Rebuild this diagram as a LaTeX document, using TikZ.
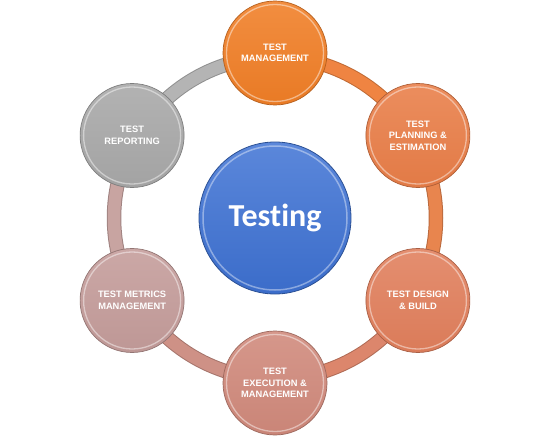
\documentclass[tikz,border=0pt]{standalone}
\usepackage{fontspec}
\setmainfont{Liberation Sans}
\newfontfamily\calfont[Ligatures={NoCommon,NoRequired,NoContextual}]{Carlito}
\usetikzlibrary{calc}
\definecolor{cTop}{HTML}{F07E26}
\definecolor{cRT}{HTML}{E97E48}
\definecolor{cRB}{HTML}{E17F5C}
\definecolor{cBot}{HTML}{D0897B}
\definecolor{cLB}{HTML}{C49C9A}
\definecolor{cLT}{HTML}{A8A8A8}
\definecolor{cBlue}{HTML}{3E72D4}
\definecolor{rA}{HTML}{EF8442}
\definecolor{rB}{HTML}{E8854E}
\definecolor{rC}{HTML}{DC866C}
\definecolor{rD}{HTML}{CE9186}
\definecolor{rE}{HTML}{C8A4A1}
\definecolor{rF}{HTML}{B4B4B4}
\tikzset{
  ball/.style={circle, minimum size=104pt, inner sep=0pt, top color=#1!88!white, bottom color=#1!97!black,
    draw=#1!75!black, line width=0.7pt, text=white, align=center,
    font=\bfseries\fontsize{9.3}{11.5}\selectfont,
    path picture={\draw[white,opacity=.45,line width=1.3pt] (path picture bounding box.center) circle (48.5pt);}},
  bigball/.style={circle, minimum size=152pt, inner sep=0pt, top color=#1!85!white, bottom color=#1!95!black,
    draw=#1!70!black, line width=0.8pt, text=white, align=center,
    font=\calfont\bfseries\fontsize{32}{36}\selectfont,
    path picture={\draw[white,opacity=.4,line width=1.5pt] (path picture bounding box.center) circle (72pt);}},
  ringseg/.style={line width=12.5pt, draw=#1, preaction={draw=#1!80!black, line width=14.5pt}},
}
\begin{document}
\begin{tikzpicture}[x=1pt,y=-1pt]
\useasboundingbox (0,0) rectangle (550,439);
\coordinate (C) at (275,218);
% ring
\draw[ringseg=rF] ($(C)+(90:161pt)$) arc[start angle=90,end angle=150,radius=161pt];
\draw[ringseg=rA] ($(C)+(30:161pt)$) arc[start angle=30,end angle=90,radius=161pt];
\draw[ringseg=rB] ($(C)+(-30:161pt)$) arc[start angle=-30,end angle=30,radius=161pt];
\draw[ringseg=rC] ($(C)+(-90:161pt)$) arc[start angle=-90,end angle=-30,radius=161pt];
\draw[ringseg=rD] ($(C)+(210:161pt)$) arc[start angle=210,end angle=270,radius=161pt];
\draw[ringseg=rE] ($(C)+(150:161pt)$) arc[start angle=150,end angle=210,radius=161pt];
% nodes
\node[ball=cTop] (top) at ($(C)+(90:165pt)$) {TEST\\MANAGEMENT};
\node[ball=cRT] (rt) at ($(C)+(30:165pt)$) {TEST\\PLANNING \&\\ESTIMATION};
\node[ball=cRB] (rb) at ($(C)+(-30:165pt)$) {TEST DESIGN\\\& BUILD};
\node[ball=cBot] (bot) at ($(C)+(-90:165pt)$) {TEST\\EXECUTION \&\\MANAGEMENT};
\node[ball=cLB] (lb) at ($(C)+(210:165pt)$) {TEST METRICS\\MANAGEMENT};
\node[ball=cLT] (lt) at ($(C)+(150:165pt)$) {TEST\\REPORTING};
\node[bigball=cBlue] (ctr) at (C) {Testing};
\end{tikzpicture}
\end{document}
